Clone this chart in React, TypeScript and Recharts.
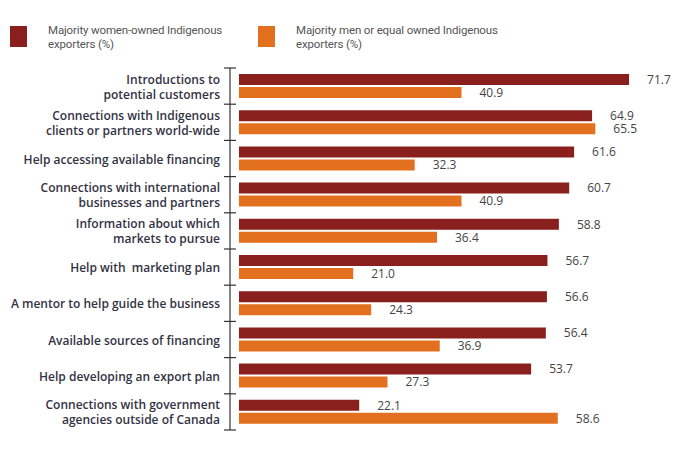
import React from "react";
import { BarChart, Bar, XAxis, YAxis, LabelList } from "recharts";

const categories = [
  "Introductions to|potential customers",
  "Connections with Indigenous|clients or partners world-wide",
  "Help accessing available financing",
  "Connections with international|businesses and partners",
  "Information about which|markets to pursue",
  "Help with  marketing plan",
  "A mentor to help guide the business",
  "Available sources of financing",
  "Help developing an export plan",
  "Connections with government|agencies outside of Canada",
];

const womenOwned = [71.7, 64.9, 61.6, 60.7, 58.8, 56.7, 56.6, 56.4, 53.7, 22.1];
const menOrEqual = [40.9, 65.5, 32.3, 40.9, 36.4, 21.0, 24.3, 36.9, 27.3, 58.6];

const seriesNames = [
  "Majority women-owned Indigenous|exporters (%)",
  "Majority men or equal owned Indigenous|exporters (%)",
];

const DARK_RED = "#8a201d";
const ORANGE = "#e3701f";
const FONT = "'Open Sans', sans-serif";
const LEGEND_FONT = "Roboto, sans-serif";

const data = categories.map((c, i) => ({
  name: c,
  women: womenOwned[i],
  men: menOrEqual[i],
}));

function CategoryTick(props: any) {
  const { x, y, payload, index } = props;
  const lines = String(payload.value).split("|");
  const half = payload.offset || 18.1;
  const lh = 15;
  const startY = y - ((lines.length - 1) * lh) / 2;
  return (
    <g>
      <line x1={x + 4} x2={x + 16} y1={y - half} y2={y - half} stroke="#333" strokeWidth={1.2} />
      {index === categories.length - 1 && (
        <line x1={x + 4} x2={x + 16} y1={y + half} y2={y + half} stroke="#333" strokeWidth={1.2} />
      )}
      <text
        x={x}
        y={startY}
        textAnchor="end"
        dominantBaseline="central"
        fill="#333344"
        fontSize={12}
        fontWeight={600}
        fontFamily={FONT}
        style={{ whiteSpace: "pre" }}
      >
        {lines.map((l, i) => (
          <tspan key={i} x={x} dy={i === 0 ? 0 : lh}>
            {l}
          </tspan>
        ))}
      </text>
    </g>
  );
}

const fmt = (v: any) => Number(v).toFixed(1);

export default function App() {
  const colors = [DARK_RED, ORANGE];
  const legendX = [10, 258];
  return (
    <div style={{ position: "absolute", left: 0, top: 0, width: 700, height: 462, background: "#fff" }}>
      {seriesNames.map((s, i) => (
        <div key={s} style={{ position: "absolute", left: legendX[i], top: 26 }}>
          <div style={{ position: "absolute", left: 0, top: 0, width: 17, height: 21, background: colors[i] }} />
          <div
            style={{
              position: "absolute",
              left: 38,
              top: -3,
              width: 240,
              fontFamily: LEGEND_FONT,
              fontSize: 11.5,
              letterSpacing: -0.15,
              lineHeight: "14px",
              color: "#555",
            }}
          >
            {s.split("|").map((l) => (
              <div key={l}>{l}</div>
            ))}
          </div>
        </div>
      ))}
      <BarChart
        width={700}
        height={462}
        data={data}
        layout="vertical"
        margin={{ top: 68, right: 10, bottom: 32, left: 0 }}
        barSize={11}
        barGap={2}
      >
        <XAxis type="number" hide domain={[-1.65, 82.9]} />
        <YAxis
          type="category"
          dataKey="name"
          width={230}
          tickLine={false}
          tickSize={0}
          tickMargin={10}
          axisLine={{ stroke: "#333", strokeWidth: 1.2 }}
          tick={<CategoryTick />}
          interval={0}
        />
        <Bar dataKey="women" fill={DARK_RED} isAnimationActive={false}>
          <LabelList dataKey="women" position="right" offset={18} formatter={fmt} fill="#444" fontSize={12} fontFamily={FONT} />
        </Bar>
        <Bar dataKey="men" fill={ORANGE} isAnimationActive={false}>
          <LabelList dataKey="men" position="right" offset={18} formatter={fmt} fill="#444" fontSize={12} fontFamily={FONT} />
        </Bar>
      </BarChart>
    </div>
  );
}
